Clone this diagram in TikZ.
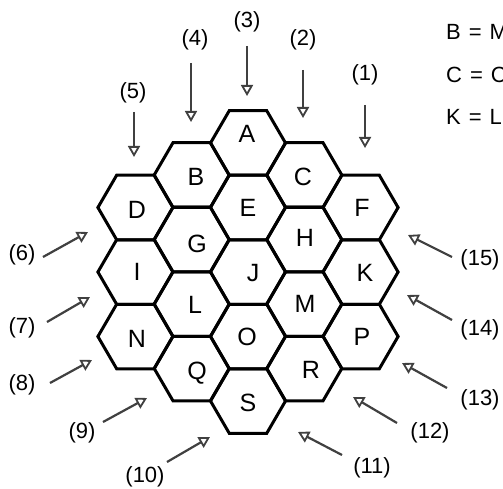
\documentclass[tikz,border=0pt]{standalone}
\usepackage{fontspec}
\setmainfont{Liberation Sans}
\usetikzlibrary{arrows.meta}
\begin{document}
\begin{tikzpicture}[x=1pt,y=-1pt,
  hexcell/.style={line width=3pt, line join=miter},
  letter/.style={font=\fontsize{25}{25}\selectfont, inner sep=0pt},
  numlabel/.style={font=\fontsize{22}{22}\selectfont, inner sep=0pt},
  sidetext/.style={font=\fontsize{22}{22}\selectfont, inner sep=0pt, anchor=base west},
  pointer/.style={draw=black!75, line width=2.2pt, -{Triangle[open, width=12pt, length=11pt, line width=1.8pt]}}]
\useasboundingbox (0,0) rectangle (503,489);
\fill[white] (0,0) rectangle (503,489);
% hexagon cells: centre x/ centre y / letter / letter x / letter y
\foreach \cx/\cy/\n/\lx/\ly in {
  135.4/207.5/D/137/210, 135.4/272/I/137/272, 135.4/336.5/N/137/339,
  191.7/175/B/196/177, 191.7/239.5/G/197/244, 191.7/304/L/195/305, 191.7/368.5/Q/197/373,
  248/143/A/247/134, 248/207.5/E/248/208, 248/272/J/253/273, 248/336.5/O/247/337, 248/401/S/248/403,
  304.3/175/C/303/177, 304.3/239.5/H/305/238, 304.3/304/M/305/304, 304.3/368.5/R/311/370,
  360.6/207.5/F/362/208, 360.6/272/K/365/273, 360.6/336.5/P/362/337}{
  \draw[hexcell] (\cx,\cy) +(-37.5,0) -- +(-18.75,-32.25) -- +(18.75,-32.25) -- +(37.5,0) -- +(18.75,32.25) -- +(-18.75,32.25) -- cycle;
  \node[letter] (\n) at (\lx,\ly) {\n};
}
% numbered pointers: label position / arrow start / arrow tip
\foreach \k/\lx/\ly/\sx/\sy/\tx/\ty in {
  1/365/75/365/105/365/148,
  2/303/40/303/70/303/118,
  3/247/22/247/46/247/96,
  4/195/40/191/63/191/122,
  5/133/93/134/112/134/157,
  6/22/255/43/257/88/232,
  7/22/328/47/322/90/297,
  8/22/385/50/383/92/360,
  9/82/433/103/422/147/398,
  10/145/477/167/462/210/437,
  11/372/468/342/455/298/432,
  12/430/433/397/423/353/397,
  13/480/400/447/388/402/363,
  14/480/330/452/320/407/295,
  15/480/260/452/257/408/235}{
  \node[numlabel] (lab\k) at (\lx,\ly) {(\k)};
  \coordinate (from\k) at (\sx,\sy);
  \coordinate (to\k) at (\tx,\ty);
  \draw[pointer] (from\k) -- (to\k);
}
% cut-off text at the top right
\node[sidetext] (key1) at (446,40) {B\hspace{8pt}=\hspace{8pt}M};
\node[sidetext] (key2) at (446,83) {C\hspace{8pt}=\hspace{8pt}C};
\node[sidetext] (key3) at (446,125) {K\hspace{8pt}=\hspace{8pt}L};
\end{tikzpicture}
\end{document}
